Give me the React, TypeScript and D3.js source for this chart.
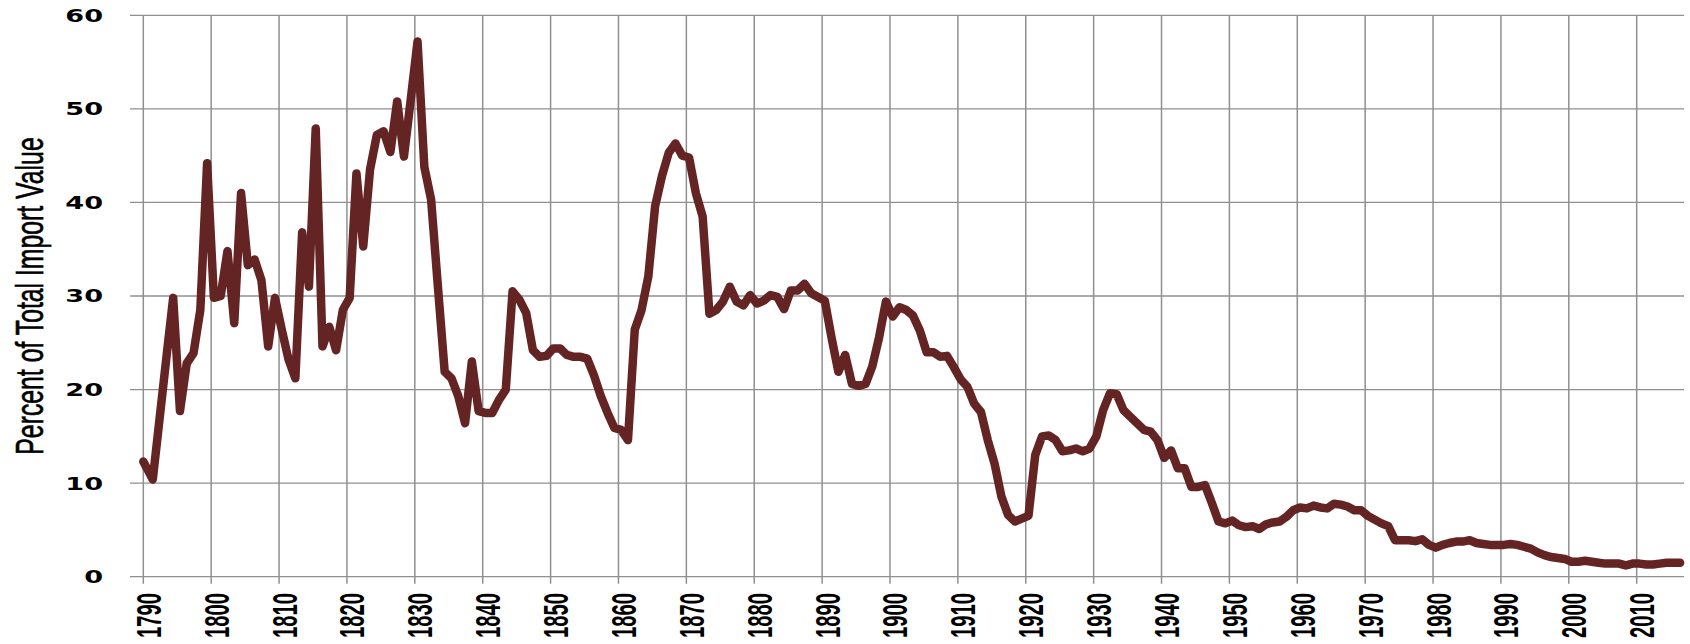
import React from 'react';
import * as d3 from 'd3';

// ratio of duties to total import value, percent, one value per year from 1790
const ratio1790s = [12.3, 10.4, 16.9, 23.4, 29.8, 17.7, 22.8, 23.9, 28.5, 44.2];
const ratio1800s = [29.8, 30.0, 34.8, 27.1, 41.0, 33.3, 33.9, 31.7, 24.6, 29.8];
const ratio1810s = [26.4, 23.2, 21.2, 36.8, 31.0, 47.9, 24.6, 26.7, 24.2, 28.5];
const ratio1820s = [29.8, 43.1, 35.3, 43.5, 47.2, 47.6, 45.4, 50.8, 44.9, 51.0];
const ratio1830s = [57.2, 43.8, 40.3, 31.0, 21.9, 21.2, 19.3, 16.4, 23.0, 17.7];
const ratio1840s = [17.5, 17.5, 18.9, 20.0, 30.5, 29.6, 28.2, 24.2, 23.5, 23.6];
const ratio1850s = [24.4, 24.4, 23.7, 23.5, 23.5, 23.3, 21.5, 19.3, 17.5, 15.9];
const ratio1860s = [15.7, 14.6, 26.4, 28.5, 32.1, 39.6, 42.8, 45.3, 46.3, 45.0];
const ratio1870s = [44.8, 41.0, 38.5, 28.1, 28.5, 29.4, 31.0, 29.4, 29.0, 30.1];
const ratio1880s = [29.2, 29.5, 30.1, 29.9, 28.6, 30.6, 30.6, 31.3, 30.3, 29.9];
const ratio1890s = [29.5, 25.5, 21.9, 23.7, 20.6, 20.4, 20.6, 22.5, 25.6, 29.4];
const ratio1900s = [27.8, 28.8, 28.5, 27.9, 26.3, 24.0, 24.0, 23.5, 23.6, 22.4];
const ratio1910s = [21.1, 20.3, 18.5, 17.6, 14.6, 12.1, 8.6, 6.6, 5.9, 6.2];
const ratio1920s = [6.5, 13.0, 15.0, 15.1, 14.6, 13.4, 13.5, 13.7, 13.4, 13.7];
const ratio1930s = [15.0, 17.8, 19.6, 19.5, 17.8, 17.1, 16.4, 15.7, 15.5, 14.6];
const ratio1940s = [12.7, 13.5, 11.6, 11.6, 9.6, 9.6, 9.8, 7.9, 5.9, 5.7];
const ratio1950s = [6.0, 5.5, 5.3, 5.4, 5.1, 5.6, 5.8, 5.9, 6.4, 7.1];
const ratio1960s = [7.4, 7.3, 7.6, 7.4, 7.3, 7.8, 7.7, 7.5, 7.1, 7.1];
const ratio1970s = [6.5, 6.1, 5.7, 5.4, 3.9, 3.9, 3.9, 3.8, 4.0, 3.4];
const ratio1980s = [3.1, 3.4, 3.6, 3.75, 3.75, 3.9, 3.6, 3.5, 3.4, 3.4];
const ratio1990s = [3.4, 3.5, 3.4, 3.2, 3.0, 2.6, 2.3, 2.1, 2.0, 1.9];
const ratio2000s = [1.6, 1.6, 1.7, 1.6, 1.5, 1.4, 1.4, 1.4, 1.2, 1.4];
const ratio2010s = [1.4, 1.3, 1.3, 1.4, 1.5, 1.5, 1.5];

const firstYear = 1790;
const yTicks = [0, 10, 20, 30, 40, 50, 60];
const xTicks = [1790, 1800, 1810, 1820, 1830, 1840, 1850, 1860, 1870, 1880, 1890, 1900,
  1910, 1920, 1930, 1940, 1950, 1960, 1970, 1980, 1990, 2000, 2010];
const yTitle = 'Percent of Total Import Value';

const values = [
  ...ratio1790s, ...ratio1800s, ...ratio1810s, ...ratio1820s, ...ratio1830s, ...ratio1840s,
  ...ratio1850s, ...ratio1860s, ...ratio1870s, ...ratio1880s, ...ratio1890s, ...ratio1900s,
  ...ratio1910s, ...ratio1920s, ...ratio1930s, ...ratio1940s, ...ratio1950s, ...ratio1960s,
  ...ratio1970s, ...ratio1980s, ...ratio1990s, ...ratio2000s, ...ratio2010s,
];
const series = values.map((v, i) => ({ year: firstYear + i, value: v }));

const W = 1690;
const H = 644;
// annual values sit a little past the year's gridline
const yearShift = 0.4;

export default function App() {
  const x = d3.scaleLinear().domain([1790, 2017]).range([143.3, 1684.2]);
  const y = d3.scaleLinear().domain([0, 60]).range([576.7, 15.3]);

  const line = d3.line<{ year: number; value: number }>()
    .x(d => x(d.year === firstYear ? d.year : d.year + yearShift))
    .y(d => y(d.value));

  const gridColor = '#909090';

  return (
    <svg width={W} height={H} style={{ position: 'absolute', left: 0, top: 0, background: '#fff' }}>
      {/* horizontal grid */}
      {yTicks.map(t => (
        <line key={'h' + t} x1={130} x2={1684} y1={y(t)} y2={y(t)}
          stroke={gridColor} strokeWidth={1.3} />
      ))}
      {/* vertical grid + ticks */}
      {xTicks.map(t => (
        <line key={'v' + t} x1={x(t)} x2={x(t)} y1={y(60)} y2={y(0) + 7}
          stroke={gridColor} strokeWidth={1.5} />
      ))}

      <path d={line(series) || ''} fill="none" stroke="#632423" strokeWidth={8.5}
        strokeLinejoin="round" strokeLinecap="round" />

      {/* y tick labels */}
      {yTicks.map(t => (
        <text key={'yl' + t} transform={`translate(103,${y(t) + 6.4}) scale(1.55,1)`}
          textAnchor="end" fontFamily="DejaVu Sans" fontWeight="bold" fontSize={17.5} fill="#000">
          {t}
        </text>
      ))}

      {/* x tick labels */}
      {xTicks.map(t => (
        <text key={'xl' + t} transform={`translate(${x(t) + 17.5},593) scale(1.72,1) rotate(-90)`}
          textAnchor="end" fontFamily="Liberation Sans" fontWeight="bold" fontSize={20.2} fill="#000">
          {t}
        </text>
      ))}

      <text transform={`translate(43.3,${(y(0) + y(60)) / 2}) scale(1.55,1) rotate(-90)`}
        textAnchor="middle" fontFamily="Liberation Sans" fontSize={24.8} fill="#000"
        stroke="#000" strokeWidth={0.4}>
        {yTitle}
      </text>
    </svg>
  );
}
